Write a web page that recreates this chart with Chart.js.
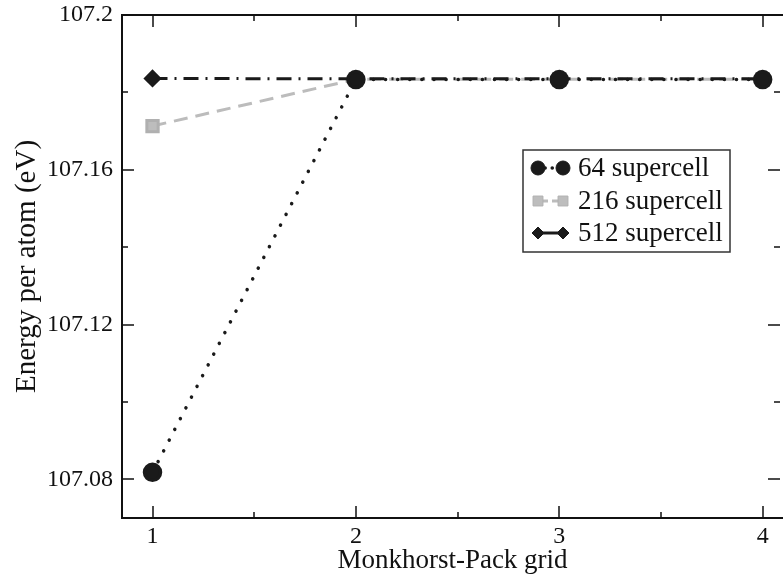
<!DOCTYPE html>
<html>
<head>
<meta charset="utf-8">
<script src="https://cdn.jsdelivr.net/npm/chart.js"></script>
<style>
    html, body { margin: 0; padding: 0; background: #fff; }
    #energyChart { display: block; }
</style>
</head>
<body>
<canvas id="energyChart" width="783" height="577"></canvas>
<script>
// k-point grid sizes and converged energies
const gridSizes = [1, 2, 3, 4];
const energy64 = [107.0818, 107.1833, 107.1833, 107.1833];
const energy216 = [107.1713, 107.1834, 107.1834, 107.1834];
const energy512 = [107.1836, 107.1835, 107.1835, 107.1835];

const seriesNames = ['64 supercell', '216 supercell', '512 supercell'];
const xTicks = [1, 2, 3, 4];
const xMinorTicks = [1.5, 2.5, 3.5];
const yTicks = [107.08, 107.12, 107.16, 107.2];
const yTickLabels = ['107.08', '107.12', '107.16', '107.2'];
const yMinorTicks = [107.1, 107.14, 107.18];

const serif = "'Liberation Serif', 'DejaVu Serif', serif";

function toPoints(values) {
    return gridSizes.map((x, i) => ({ x: x, y: values[i] }));
}

// Frame with inward ticks on all four sides
const framePlugin = {
    id: 'frame',
    afterDatasetsDraw(chart) {
        const { ctx, chartArea: a, scales: { x, y } } = chart;
        ctx.save();
        ctx.strokeStyle = '#111';
        ctx.lineWidth = 2;
        ctx.beginPath();
        ctx.moveTo(a.right, a.top);
        ctx.lineTo(a.left, a.top);
        ctx.lineTo(a.left, a.bottom);
        ctx.lineTo(a.right, a.bottom);
        ctx.stroke();

        ctx.lineWidth = 1.5;
        ctx.beginPath();
        const xt = (v, len) => {
            const px = Math.round(x.getPixelForValue(v));
            ctx.moveTo(px, a.bottom);
            ctx.lineTo(px, a.bottom - len);
            ctx.moveTo(px, a.top);
            ctx.lineTo(px, a.top + len);
        };
        const yt = (v, len) => {
            const py = Math.round(y.getPixelForValue(v));
            ctx.moveTo(a.left, py);
            ctx.lineTo(a.left + len, py);
            ctx.moveTo(a.right - 3, py);
            ctx.lineTo(a.right - 3 - len, py);
        };
        xTicks.forEach(v => xt(v, 12));
        xMinorTicks.forEach(v => xt(v, 6));
        yTicks.forEach(v => yt(v, 12));
        yMinorTicks.forEach(v => yt(v, 6));
        ctx.stroke();
        ctx.restore();
    }
};

// Boxed legend: marker - line - marker, then the label
const legendPlugin = {
    id: 'boxLegend',
    afterDraw(chart) {
        const { ctx } = chart;
        const box = { left: 523, top: 150, right: 730, bottom: 252 };
        ctx.save();
        ctx.fillStyle = '#fff';
        ctx.fillRect(box.left, box.top, box.right - box.left, box.bottom - box.top);
        ctx.strokeStyle = '#333';
        ctx.lineWidth = 1.5;
        ctx.strokeRect(box.left, box.top, box.right - box.left, box.bottom - box.top);

        const rowY = [168, 201, 233];
        chart.data.datasets.forEach((ds, i) => {
            const yy = rowY[i];
            const x1 = 538, x2 = 563;
            ctx.save();
            ctx.strokeStyle = ds.borderColor;
            ctx.lineWidth = ds.borderWidth;
            ctx.lineCap = ds.borderCapStyle || 'butt';
            ctx.setLineDash(ds.legendDash);
            ctx.beginPath();
            ctx.moveTo(x1, yy);
            ctx.lineTo(x2, yy);
            ctx.stroke();
            ctx.restore();
            const opts = {
                pointStyle: ds.pointStyle,
                radius: ds.legendRadius,
                rotation: 0,
                borderWidth: 1
            };
            ctx.fillStyle = ds.pointBackgroundColor;
            ctx.strokeStyle = ds.pointBorderColor;
            ctx.lineWidth = 1;
            Chart.helpers.drawPoint(ctx, opts, x1, yy);
            ctx.fillStyle = ds.pointBackgroundColor;
            ctx.strokeStyle = ds.pointBorderColor;
            Chart.helpers.drawPoint(ctx, opts, x2, yy);
            ctx.fillStyle = '#111';
            ctx.font = '27px ' + serif;
            ctx.textBaseline = 'middle';
            ctx.textAlign = 'left';
            ctx.fillText(seriesNames[i], 578, yy + 1);
        });
        ctx.restore();
    }
};

const ctx = document.getElementById('energyChart').getContext('2d');

new Chart(ctx, {
    type: 'line',
    data: {
        datasets: [
            {
                label: seriesNames[0],
                data: toPoints(energy64),
                borderColor: '#1a1a1a',
                borderWidth: 3.5,
                borderDash: [0.1, 12],
                borderCapStyle: 'round',
                legendDash: [0.1, 7],
                pointStyle: 'circle',
                pointRadius: 8,
                legendRadius: 7,
                pointBackgroundColor: '#1a1a1a',
                pointBorderColor: '#1a1a1a',
                order: 0
            },
            {
                label: seriesNames[1],
                data: toPoints(energy216),
                borderColor: '#bcbcbc',
                borderWidth: 3,
                borderDash: [14, 8],
                legendDash: [10, 4],
                pointStyle: 'rect',
                pointRadius: 8,
                legendRadius: 7,
                pointBackgroundColor: '#bdbdbd',
                pointBorderColor: '#b0b0b0',
                order: 2
            },
            {
                label: seriesNames[2],
                data: toPoints(energy512),
                borderColor: '#1a1a1a',
                borderWidth: 3,
                borderDash: [15, 7, 2, 7],
                legendDash: [],
                pointStyle: 'rectRot',
                pointRadius: 7,
                legendRadius: 6,
                pointBackgroundColor: '#1a1a1a',
                pointBorderColor: '#1a1a1a',
                order: 1
            }
        ]
    },
    options: {
        responsive: false,
        animation: false,
        layout: {
            autoPadding: false,
            padding: { top: 15, right: 0, bottom: 0, left: 0 }
        },
        elements: {
            line: { tension: 0, fill: false },
            point: { hoverRadius: 8 }
        },
        plugins: {
            legend: { display: false },
            tooltip: { enabled: false }
        },
        scales: {
            x: {
                type: 'linear',
                min: 0.85,
                max: 4.1,
                afterFit: s => {
                    s.height = 59;
                    s.paddingLeft = 0;
                    s.paddingRight = 0;
                },
                afterBuildTicks: s => { s.ticks = xTicks.map(v => ({ value: v })); },
                grid: { display: false, drawTicks: false, tickLength: 0 },
                border: { display: false },
                ticks: {
                    color: '#111',
                    padding: 4,
                    font: { family: serif, size: 24 },
                    callback: v => String(v)
                },
                title: {
                    display: true,
                    text: 'Monkhorst-Pack grid',
                    color: '#111',
                    font: { family: serif, size: 27 },
                    padding: { top: 0, bottom: 0 }
                }
            },
            y: {
                min: 107.07,
                max: 107.2,
                afterFit: s => {
                    s.width = 122;
                    s.paddingTop = 0;
                    s.paddingBottom = 0;
                },
                afterBuildTicks: s => { s.ticks = yTicks.map(v => ({ value: v })); },
                grid: { display: false, drawTicks: false, tickLength: 0 },
                border: { display: false },
                ticks: {
                    color: '#111',
                    padding: 9,
                    font: { family: serif, size: 24 },
                    callback: (v, i) => yTickLabels[i]
                },
                title: {
                    display: true,
                    text: 'Energy per atom (eV)',
                    color: '#111',
                    font: { family: serif, size: 29 },
                    padding: { top: 10, bottom: 0 }
                }
            }
        }
    },
    plugins: [framePlugin, legendPlugin]
});
</script>
</body>
</html>
